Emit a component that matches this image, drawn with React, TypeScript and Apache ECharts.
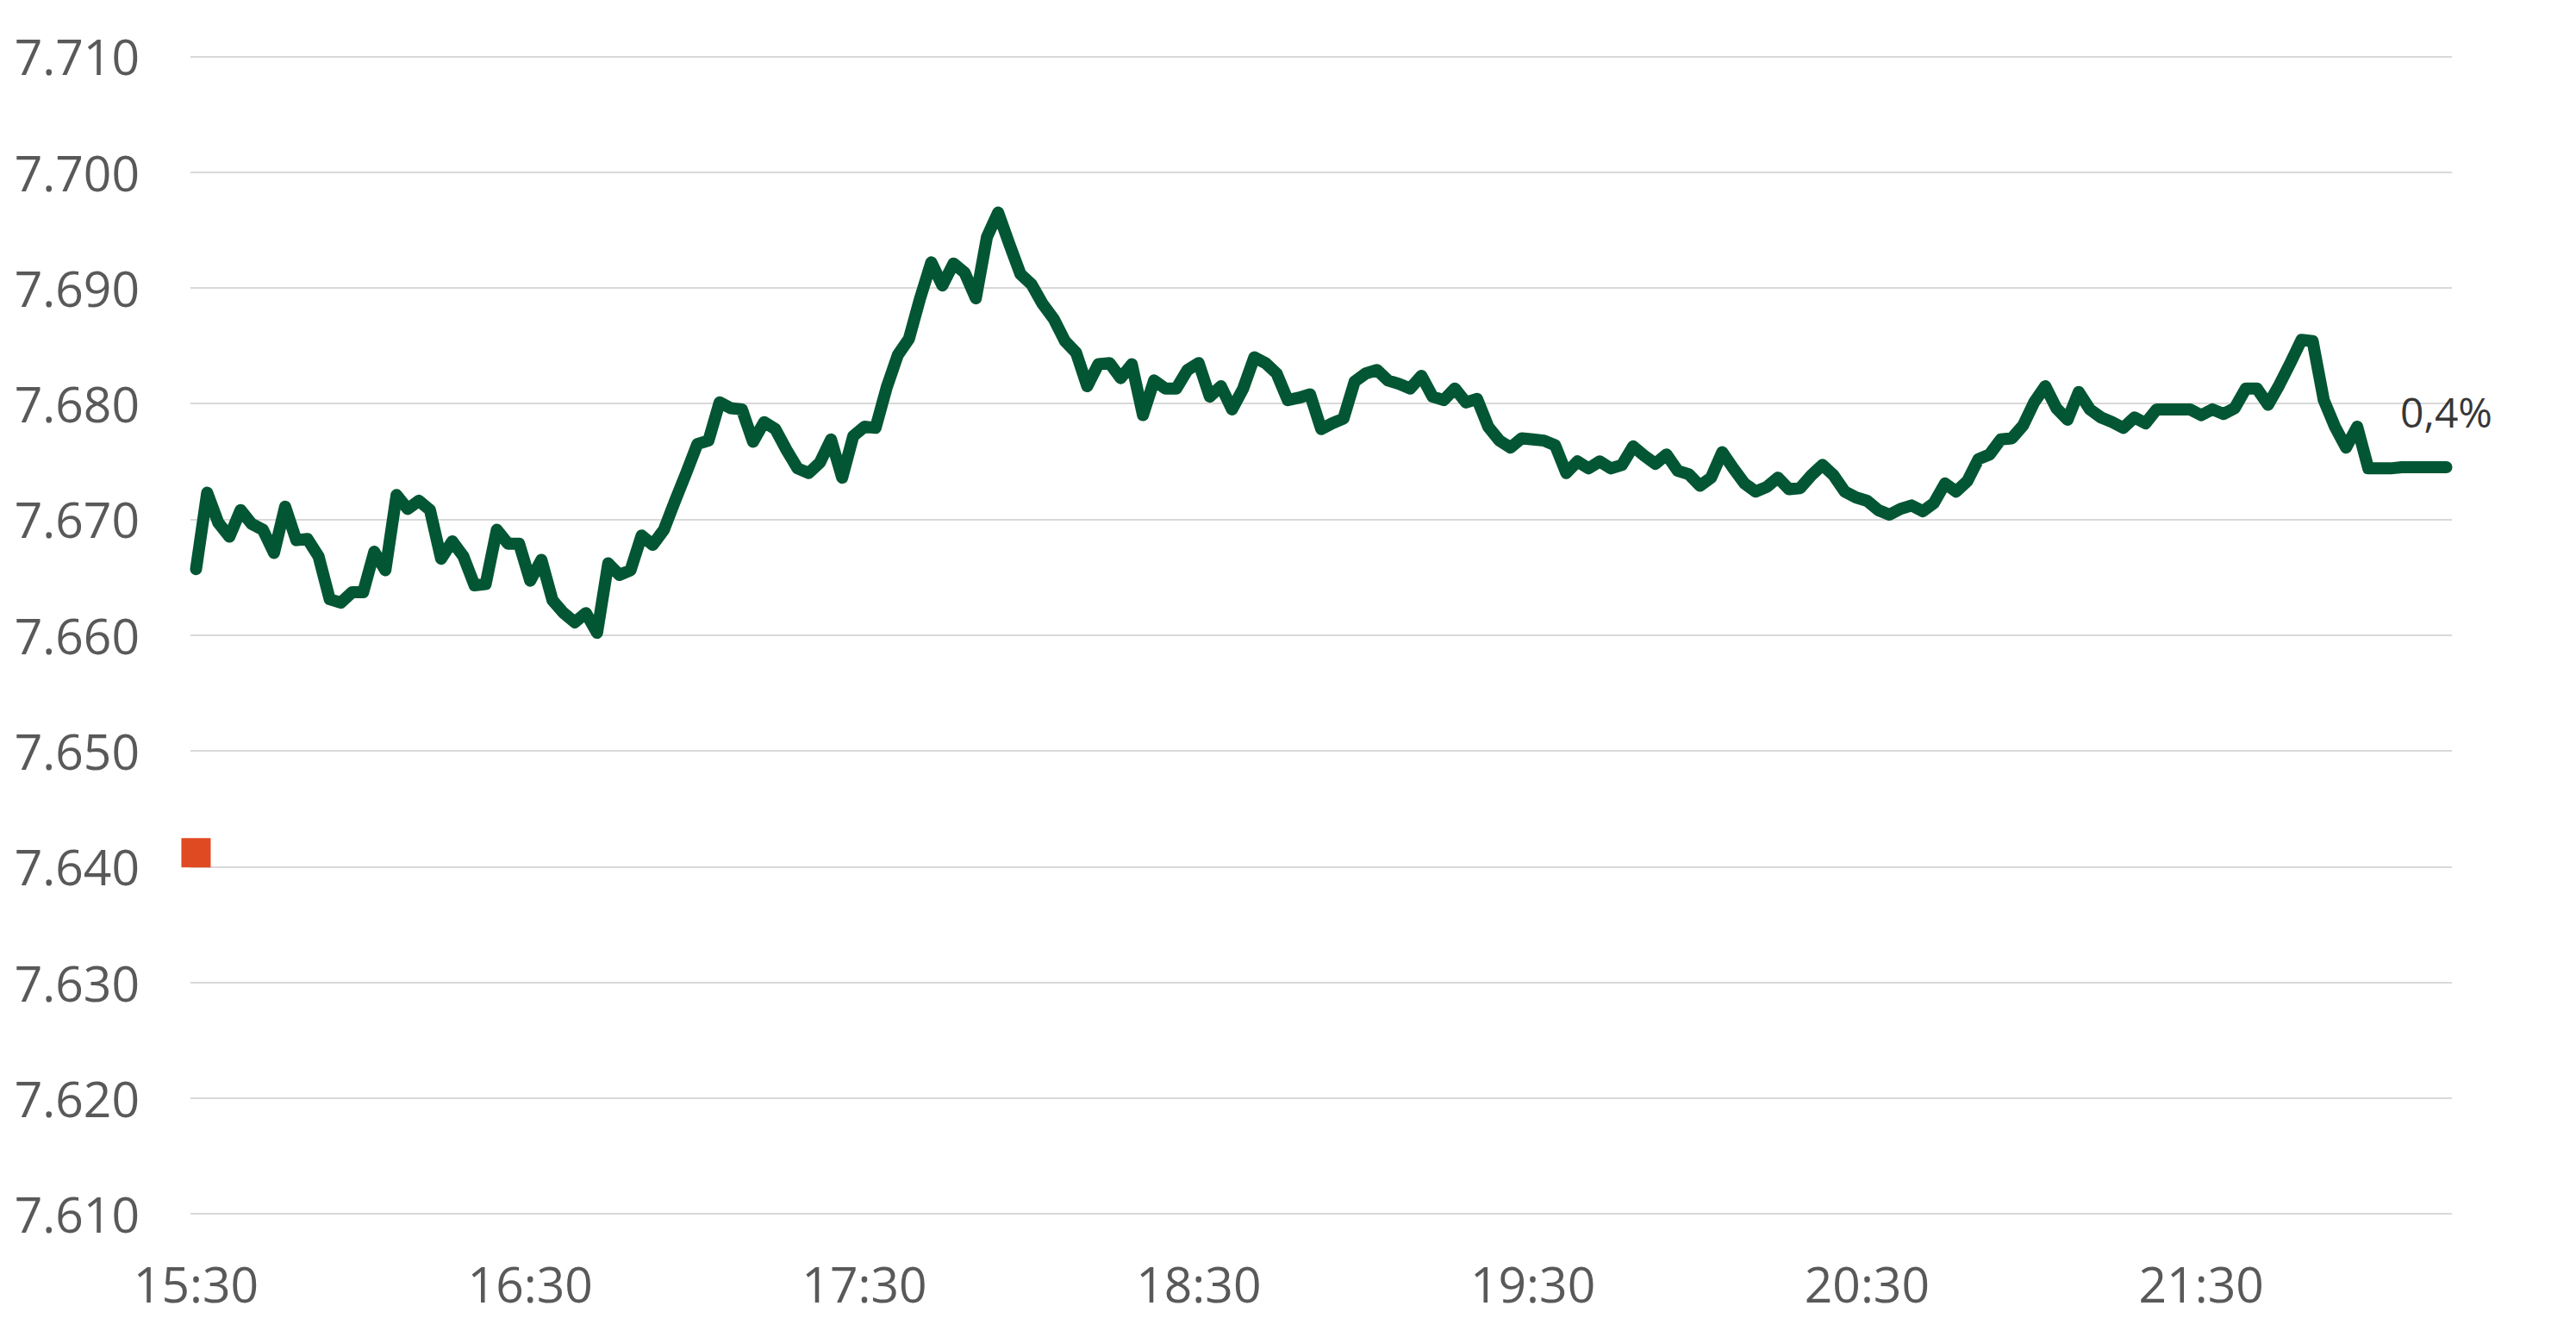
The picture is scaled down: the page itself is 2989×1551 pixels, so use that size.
import React, { useEffect, useRef } from "react";
import * as echarts from "echarts";

// Time axis: first sample at 15:30, one sample every 2 minutes
const startHour = 15;
const startMinute = 30;
const stepMinutes = 2;
const labelEvery = 30; // one label per hour

// Index level (intraday)
const indexValues: number[] = [
  7665.7, 7672.3, 7669.7, 7668.5, 7670.8, 7669.6, 7669.1, 7667.1, 7671.1, 7668.2,
  7668.3, 7666.8, 7663.1, 7662.8, 7663.7, 7663.7, 7667.2, 7665.6, 7672.1, 7670.9,
  7671.6, 7670.8, 7666.6, 7668.1, 7666.8, 7664.3, 7664.4, 7669.1, 7667.9, 7667.9,
  7664.7, 7666.5, 7663.0, 7661.9, 7661.1, 7661.9, 7660.2, 7666.2, 7665.2, 7665.6,
  7668.6, 7667.8, 7669.1, 7671.6, 7674.0, 7676.5, 7676.8, 7680.1, 7679.6, 7679.5,
  7676.7, 7678.4, 7677.8, 7676.0, 7674.4, 7674.0, 7674.9, 7676.9, 7673.6, 7677.2,
  7678.0, 7677.9, 7681.4, 7684.2, 7685.6, 7689.1, 7692.2, 7690.2, 7692.1, 7691.3,
  7689.1, 7694.4, 7696.5, 7693.8, 7691.2, 7690.3, 7688.6, 7687.3, 7685.4, 7684.4,
  7681.5, 7683.4, 7683.5, 7682.2, 7683.4, 7679.0, 7682.0, 7681.3, 7681.3, 7682.9,
  7683.5, 7680.6, 7681.5, 7679.5, 7681.3, 7684.0, 7683.5, 7682.6, 7680.3, 7680.5,
  7680.8, 7677.8, 7678.3, 7678.7, 7681.9, 7682.6, 7682.9, 7682.0, 7681.7, 7681.3,
  7682.4, 7680.6, 7680.3, 7681.3, 7680.1, 7680.4, 7678.0, 7676.8, 7676.2, 7677.0,
  7676.9, 7676.8, 7676.4, 7674.0, 7675.0, 7674.4, 7675.0, 7674.4, 7674.7, 7676.3,
  7675.5, 7674.8, 7675.6, 7674.2, 7673.9, 7672.9, 7673.6, 7675.8, 7674.4, 7673.1,
  7672.4, 7672.8, 7673.6, 7672.6, 7672.7, 7673.8, 7674.7, 7673.8, 7672.4, 7671.9,
  7671.6, 7670.8, 7670.4, 7670.9, 7671.2, 7670.7, 7671.4, 7673.1, 7672.4, 7673.3,
  7675.2, 7675.6, 7676.9, 7677.0, 7678.1, 7680.1, 7681.5, 7679.6, 7678.6, 7681.0,
  7679.5, 7678.8, 7678.4, 7677.9, 7678.8, 7678.3, 7679.5, 7679.5, 7679.5, 7679.5,
  7679.0, 7679.5, 7679.1, 7679.6, 7681.3, 7681.3, 7679.9, 7681.6, 7683.5, 7685.5,
  7685.4, 7680.3, 7678.0, 7676.2, 7678.0, 7674.4, 7674.4, 7674.4, 7674.5, 7674.5,
  7674.5, 7674.5, 7674.5,
];

// Previous close marker (orange square at the first time slot)
const referenceIndex = 0;
const referenceValue = 7641.2;

// Change label shown at the end of the line
const changeLabel = "0,4%";

// Y axis ticks
const yMin = 7610;
const yMax = 7710;
const yStep = 10;

const pad2 = (n: number) => String(n).padStart(2, "0");

function buildTimes(count: number): string[] {
  const out: string[] = [];
  for (let i = 0; i < count; i++) {
    const total = startHour * 60 + startMinute + i * stepMinutes;
    out.push(`${pad2(Math.floor(total / 60))}:${pad2(total % 60)}`);
  }
  return out;
}

const formatLevel = (v: number) => {
  const r = Math.round(v);
  return `${Math.floor(r / 1000)}.${String(r % 1000).padStart(3, "0")}`;
};

export default function App() {
  const ref = useRef<HTMLDivElement>(null);

  useEffect(() => {
    if (!ref.current) return;
    const chart = echarts.init(ref.current, undefined, { renderer: "svg" });
    const times = buildTimes(indexValues.length);
    const last = indexValues.length - 1;

    chart.setOption({
      animation: false,
      backgroundColor: "#ffffff",
      grid: { left: 221, right: 144, top: 65.3, bottom: 142.8, containLabel: false },
      xAxis: {
        type: "category",
        data: times,
        boundaryGap: true,
        axisLine: { show: false },
        axisTick: { show: false },
        splitLine: { show: false },
        axisLabel: {
          interval: (idx: number) => idx % labelEvery === 0,
          color: "#595959",
          fontFamily: "Open Sans",
          fontSize: 57,
          margin: 52,
        },
      },
      yAxis: {
        type: "value",
        min: yMin,
        max: yMax,
        interval: yStep,
        axisLine: { show: false },
        axisTick: { show: false },
        splitLine: { show: true, lineStyle: { color: "#d9d9d9", width: 2 } },
        axisLabel: {
          formatter: formatLevel,
          color: "#595959",
          fontFamily: "Open Sans",
          fontSize: 57,
          margin: 59,
        },
      },
      series: [
        {
          type: "line",
          data: indexValues,
          showSymbol: false,
          symbol: "none",
          lineStyle: { color: "#035634", width: 14, cap: "round", join: "round" },
          z: 3,
        },
        {
          type: "scatter",
          data: [[referenceIndex, referenceValue]],
          symbol: "rect",
          symbolSize: 34,
          itemStyle: { color: "#e04a22", opacity: 1 },
          z: 2,
        },
        {
          type: "scatter",
          data: [[last, indexValues[last]]],
          symbol: "circle",
          symbolSize: 1,
          itemStyle: { color: "rgba(0,0,0,0)" },
          label: {
            show: true,
            position: "top",
            distance: 40,
            formatter: changeLabel,
            color: "#000000",
            fontFamily: "Open Sans",
            fontSize: 48,
          },
          z: 4,
        },
      ],
    });

    return () => chart.dispose();
  }, []);

  return (
    <div
      ref={ref}
      style={{ position: "fixed", left: 0, top: 0, width: 2989, height: 1551, background: "#fff" }}
    />
  );
}
